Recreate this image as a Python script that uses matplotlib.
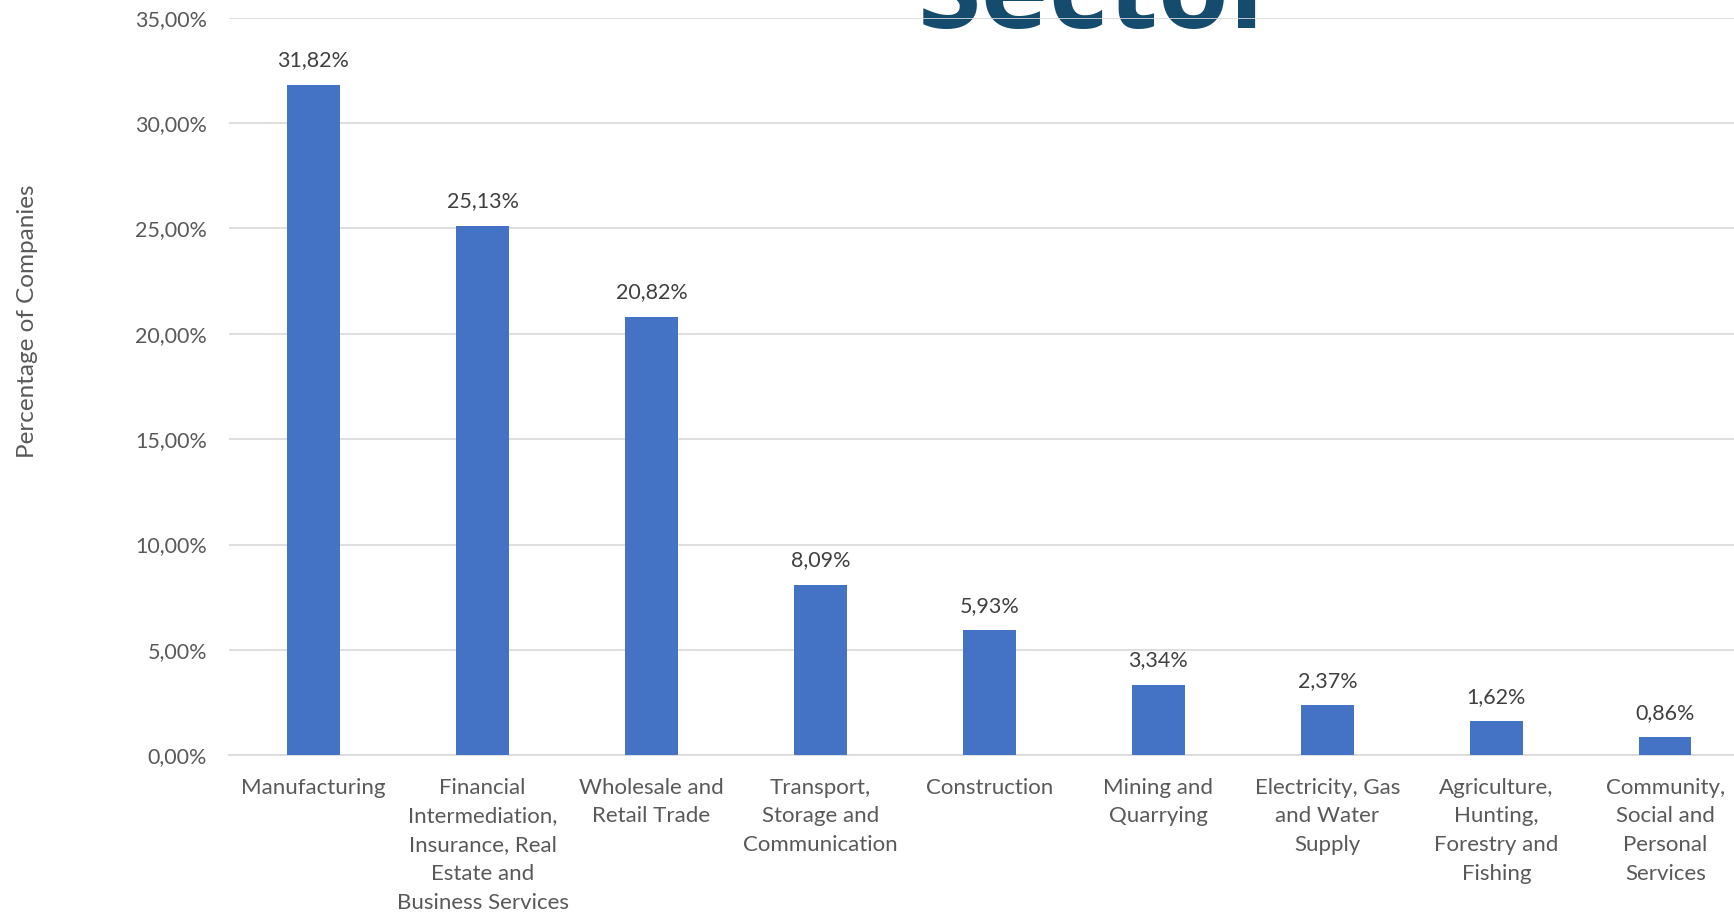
import matplotlib.pyplot as plt
from matplotlib.ticker import FuncFormatter
import numpy as np

plt.rcParams['font.family'] = ['Lato', 'DejaVu Sans']

# Share of companies by sector
sectors = [
    'Manufacturing',
    'Financial\nIntermediation,\nInsurance, Real\nEstate and\nBusiness Services',
    'Wholesale and\nRetail Trade',
    'Transport,\nStorage and\nCommunication',
    'Construction',
    'Mining and\nQuarrying',
    'Electricity, Gas\nand Water\nSupply',
    'Agriculture,\nHunting,\nForestry and\nFishing',
    'Community,\nSocial and\nPersonal\nServices',
]
shares = [31.82, 25.13, 20.82, 8.09, 5.93, 3.34, 2.37, 1.62, 0.86]

BAR = '#4472c4'
GRID = '#d9d9d9'
TXT = '#595959'


def pct(v, _pos=None):
    return f'{v:.2f}%'.replace('.', ',')


fig = plt.figure(figsize=(17.34, 9.13), dpi=100)
# plot area runs slightly past the right edge of the image
ax = fig.add_axes([0.1321, 0.1727, 0.877, 0.8079])

x = np.arange(len(sectors))
ax.bar(x, shares, width=0.31, color=BAR, zorder=3)

for xi, v in zip(x, shares):
    ax.annotate(pct(v), xy=(xi, v), xytext=(0, 10.5), textcoords='offset points',
                ha='center', va='bottom', fontsize=15.5, color='#404040')

ax.set_xlim(-0.5, len(sectors) - 0.5)
ax.set_ylim(0, 35)
ax.set_yticks(np.arange(0, 35.1, 5))
ax.yaxis.set_major_formatter(FuncFormatter(pct))
ax.set_xticks(x)
ax.set_xticklabels(sectors, fontsize=16, color=TXT, linespacing=1.55)
ax.tick_params(axis='y', labelsize=15.5, labelcolor=TXT, length=0, pad=16)
ax.tick_params(axis='x', length=0, pad=16)

ax.set_axisbelow(True)
ax.grid(axis='y', color=GRID, linewidth=1.2)
for side in ['left', 'right', 'top']:
    ax.spines[side].set_visible(False)
ax.spines['bottom'].set_color(GRID)
ax.spines['bottom'].set_linewidth(1.2)

fig.text(0.016, 0.648, 'Percentage of Companies', rotation=90, ha='center',
         va='center', fontsize=17.5, color=TXT)

# large heading, mostly above the top edge, drawn under the gridlines
ax.text(0.634, 0.969, 'Sector', transform=fig.transFigure, ha='center',
        va='baseline', fontsize=83, fontweight='bold', color='#154c6e',
        family=['Open Sans', 'DejaVu Sans'], clip_on=False, zorder=0.2)

fig.savefig('out.png', dpi=100)
